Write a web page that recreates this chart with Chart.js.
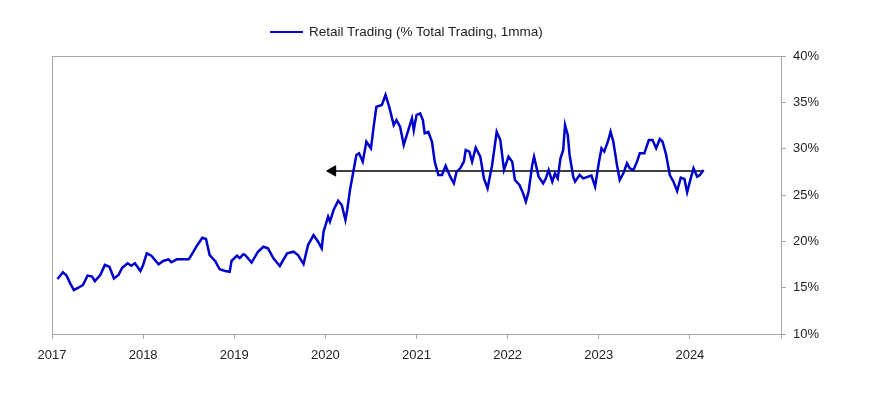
<!DOCTYPE html>
<html>
<head>
<meta charset="utf-8">
<script src="https://cdn.jsdelivr.net/npm/chart.js@4.4.1/dist/chart.umd.min.js"></script>
<style>
  body { margin: 0; background: #fff; }
  .wrap { position: relative; width: 882px; height: 397px; }
  #legend { position: absolute; top: 24px; left: 270px; font: 13.5px 'Liberation Sans', Arial, sans-serif; color: #222; }
  #legend .item { display: flex; align-items: center; }
  #legend .swatch { width: 33px; height: 0; border-top: 2.5px solid var(--color); margin-right: 6px; }
</style>
</head>
<body>
<div class="wrap">
  <canvas id="chart" width="882" height="397"></canvas>
  <div id="legend"></div>
</div>
<script>
const years = [
  2017.06, 2017.12, 2017.16, 2017.20, 2017.24, 2017.29, 2017.34, 2017.39, 2017.44, 2017.47,
  2017.53, 2017.58, 2017.63, 2017.68, 2017.73, 2017.77, 2017.83, 2017.87, 2017.91, 2017.97,
  2018.00, 2018.04, 2018.09, 2018.17, 2018.22, 2018.28, 2018.31, 2018.37, 2018.44, 2018.50,
  2018.53, 2018.59, 2018.65, 2018.69, 2018.73, 2018.79, 2018.84, 2018.90, 2018.95, 2018.97,
  2019.03, 2019.06, 2019.10, 2019.12, 2019.19, 2019.26, 2019.32, 2019.37, 2019.43, 2019.50,
  2019.58, 2019.65, 2019.70, 2019.76, 2019.81, 2019.87, 2019.92, 2019.96, 2019.98, 2020.03,
  2020.05, 2020.09, 2020.14, 2020.18, 2020.22, 2020.24, 2020.27, 2020.31, 2020.34, 2020.37,
  2020.41, 2020.45, 2020.50, 2020.53, 2020.56, 2020.62, 2020.66, 2020.70, 2020.75, 2020.78,
  2020.82, 2020.86, 2020.91, 2020.95, 2020.97, 2021.00, 2021.04, 2021.07, 2021.09, 2021.13,
  2021.17, 2021.20, 2021.24, 2021.28, 2021.32, 2021.37, 2021.41, 2021.44, 2021.48, 2021.52,
  2021.54, 2021.58, 2021.61, 2021.65, 2021.70, 2021.74, 2021.78, 2021.83, 2021.88, 2021.92,
  2021.96, 2022.01, 2022.05, 2022.08, 2022.13, 2022.17, 2022.20, 2022.23, 2022.27, 2022.29,
  2022.34, 2022.39, 2022.42, 2022.45, 2022.49, 2022.52, 2022.55, 2022.58, 2022.61, 2022.63,
  2022.66, 2022.68, 2022.72, 2022.74, 2022.79, 2022.83, 2022.89, 2022.92, 2022.96, 2023.00,
  2023.03, 2023.06, 2023.10, 2023.13, 2023.16, 2023.20, 2023.23, 2023.27, 2023.31, 2023.34,
  2023.38, 2023.42, 2023.45, 2023.50, 2023.55, 2023.59, 2023.63, 2023.67, 2023.70, 2023.74,
  2023.78, 2023.82, 2023.86, 2023.90, 2023.94, 2023.97, 2024.00, 2024.04, 2024.08, 2024.11,
  2024.15
]

const retailShare = [
  15.93, 16.66, 16.30, 15.47, 14.75, 15.00, 15.29, 16.30, 16.20, 15.70,
  16.37, 17.45, 17.26, 16.00, 16.37, 17.15, 17.63, 17.37, 17.63, 16.80,
  17.45, 18.70, 18.45, 17.52, 17.88, 18.06, 17.74, 18.06, 18.06, 18.06,
  18.52, 19.53, 20.39, 20.25, 18.52, 17.88, 16.98, 16.80, 16.72, 17.88,
  18.45, 18.20, 18.60, 18.52, 17.70, 18.88, 19.42, 19.24, 18.17, 17.34,
  18.70, 18.88, 18.52, 17.55, 19.60, 20.68, 19.96, 19.24, 21.04, 22.66,
  22.12, 23.38, 24.38, 23.92, 22.30, 23.38, 25.54, 27.70, 29.32, 29.50,
  28.60, 30.75, 30.04, 32.37, 34.53, 34.71, 35.79, 34.53, 32.55, 33.09,
  32.37, 30.40, 32.00, 33.27, 32.00, 33.63, 33.81, 33.09, 31.65, 31.80,
  30.75, 28.60, 27.16, 27.16, 28.16, 26.98, 26.26, 27.52, 27.88, 28.60,
  29.86, 29.68, 28.60, 30.10, 29.14, 26.80, 25.72, 28.24, 31.83, 30.93,
  27.70, 29.14, 28.60, 26.62, 26.08, 25.18, 24.28, 25.36, 28.24, 29.14,
  26.98, 26.26, 26.80, 27.70, 26.44, 27.34, 26.80, 28.96, 29.86, 32.55,
  31.47, 29.32, 26.98, 26.44, 27.16, 26.80, 27.00, 27.09, 25.90, 28.42,
  30.04, 29.68, 30.75, 31.83, 30.75, 28.24, 26.62, 27.34, 28.42, 27.88,
  27.70, 28.60, 29.50, 29.50, 30.93, 30.93, 30.04, 31.04, 30.75, 29.32,
  27.16, 26.44, 25.43, 26.87, 26.73, 25.29, 26.44, 27.88, 26.98, 27.16,
  27.70
]

// average line drawn back from the latest reading
const arrowYears = [2020.08, 2024.15]
const arrowLevel = [27.6, 27.6]

const yTicks = [10, 15, 20, 25, 30, 35, 40]
const yearTicks = [2017, 2018, 2019, 2020, 2021, 2022, 2023, 2024]

const htmlLegendPlugin = {
  id: 'htmlLegend',
  afterUpdate: (chart, args, options) => {
    const container = document.getElementById(options.containerId)
    const items = chart.data.datasets.filter((ds) => !ds.hideInLegend)
    container.innerHTML = items.map((ds) => (
      `<div class="item"><span class="swatch" style="--color: ${ds.borderColor};"></span>${ds.label}</div>`
    )).join('')
  }
}

const plotBorderPlugin = {
  id: 'plotBorder',
  beforeDatasetsDraw: (chart) => {
    const { ctx, chartArea } = chart
    ctx.save()
    ctx.strokeStyle = '#a6a6a6'
    ctx.lineWidth = 1
    ctx.strokeRect(chartArea.left + 0.5, chartArea.top + 0.5, chartArea.width, chartArea.height)
    ctx.restore()
  }
}

const CONFIG = {
  type: 'line',
  data: {
    datasets: [
      {
        label: 'Retail Trading (% Total Trading, 1mma)',
        data: years.map((x, i) => ({ x, y: retailShare[i] })),
        borderColor: '#0000cc',
        borderWidth: 2.5,
        pointRadius: 0,
        tension: 0
      },
      {
        label: 'average',
        hideInLegend: true,
        data: arrowYears.map((x, i) => ({ x, y: arrowLevel[i] })),
        borderColor: '#000',
        backgroundColor: '#000',
        borderWidth: 1.5,
        pointStyle: 'triangle',
        rotation: -90,
        pointRadius: [6, 0],
        pointBorderWidth: 1
      }
    ]
  },
  options: {
    animation: false,
    responsive: false,
    layout: { padding: { top: 56, left: 52, right: 0, bottom: 0 } },
    plugins: {
      htmlLegend: { containerId: 'legend' },
      legend: { display: false },
      tooltip: { enabled: false }
    },
    scales: {
      x: {
        type: 'linear',
        min: 2017,
        max: 2025,
        afterBuildTicks: (scale) => {
          scale.ticks = yearTicks.concat([2025]).map((value) => ({ value }))
        },
        afterFit: (scale) => { scale.height = 63 },
        grid: { drawOnChartArea: false, tickLength: 5, color: '#a6a6a6' },
        border: { color: '#a6a6a6' },
        ticks: {
          padding: 9,
          maxRotation: 0,
          color: '#222',
          font: { family: 'Liberation Sans', size: 13 },
          callback: (value) => (value < 2025 ? String(value) : '')
        }
      },
      y: {
        position: 'right',
        min: 10,
        max: 40,
        afterBuildTicks: (scale) => {
          scale.ticks = yTicks.map((value) => ({ value }))
        },
        afterFit: (scale) => { scale.width = 101 },
        grid: { drawOnChartArea: false, tickLength: 5, color: '#a6a6a6' },
        border: { color: '#a6a6a6' },
        ticks: {
          padding: 7,
          color: '#222',
          font: { family: 'Liberation Sans', size: 13 },
          callback: (value) => value + '%'
        }
      }
    }
  },
  plugins: [htmlLegendPlugin, plotBorderPlugin]
}

// eslint-disable-next-line no-unused-vars
const chart = new Chart(document.getElementById('chart'), CONFIG)
</script>
</body>
</html>
